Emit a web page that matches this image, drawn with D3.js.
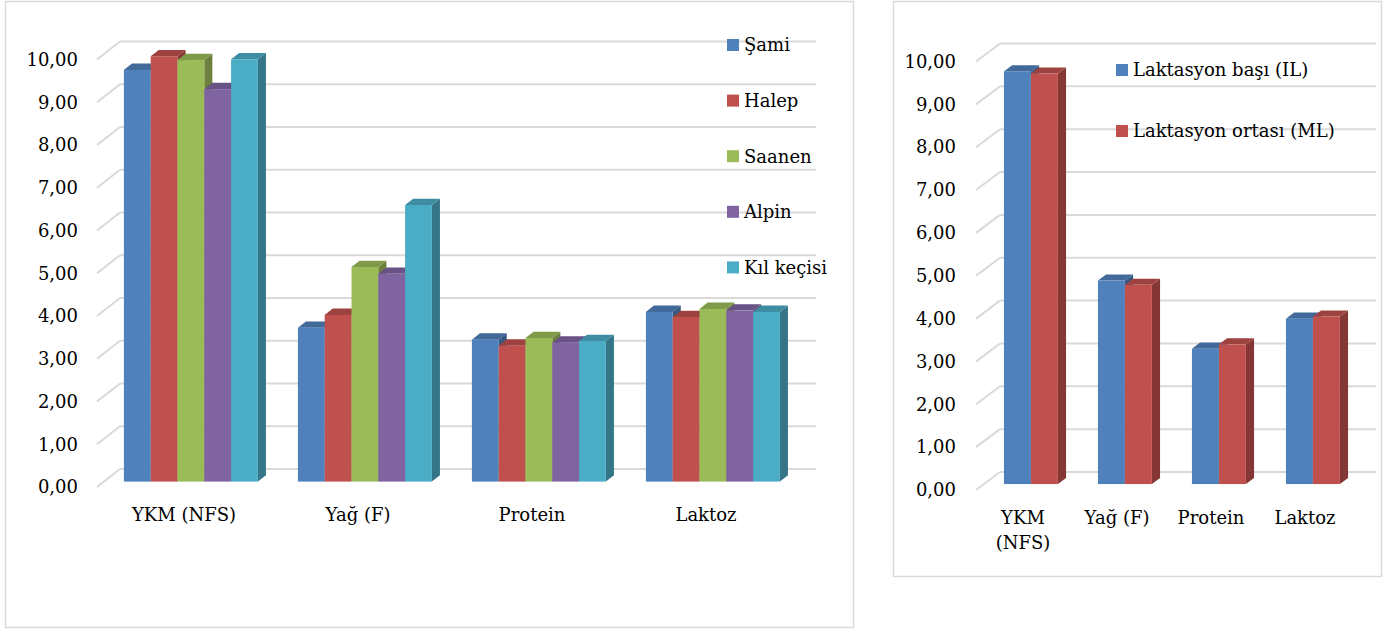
<!DOCTYPE html>
<html>
<head>
<meta charset="utf-8">
<script src="https://cdn.jsdelivr.net/npm/d3@7"></script>
<style>
  body { margin: 0; background: #fff; }
  svg { display: block; }
</style>
</head>
<body>
<svg id="chart" width="1384" height="629"></svg>
<script>
// left chart: breeds
const leftCategories = ["YKM (NFS)", "Yağ (F)", "Protein", "Laktoz"];
const breedNames = ["Şami", "Halep", "Saanen", "Alpin", "Kıl keçisi"];
const samiValues = [9.63, 3.60, 3.32, 3.97];
const halepValues = [9.95, 3.90, 3.18, 3.85];
const saanenValues = [9.86, 5.02, 3.36, 4.04];
const alpinValues = [9.18, 4.86, 3.25, 4.00];
const kilValues = [9.88, 6.47, 3.29, 3.97];

// right chart: lactation stage
const rightCategories = ["YKM (NFS)", "Yağ (F)", "Protein", "Laktoz"];
const stageNames = ["Laktasyon başı (IL)", "Laktasyon ortası (ML)"];
const ilValues = [9.63, 4.75, 3.16, 3.86];
const mlValues = [9.58, 4.65, 3.26, 3.91];

const yTicks = [0, 1, 2, 3, 4, 5, 6, 7, 8, 9, 10];

const palette = ["#4F81BD", "#C0504D", "#9BBB59", "#8064A2", "#4BACC6"];
const FONT = "'DejaVu Serif', 'Liberation Serif', serif";

const fmt = d3.formatLocale({ decimal: ",", thousands: ".", grouping: [3], currency: ["", ""] }).format(".2f");

const svg = d3.select("#chart");

// panel frames
svg.append("rect").attr("x", 5.5).attr("y", 1.5).attr("width", 848).attr("height", 626)
  .attr("fill", "#fff").attr("stroke", "#d9d9d9").attr("stroke-width", 1.5);
svg.append("rect").attr("x", 893.5).attr("y", 1.5).attr("width", 488).attr("height", 575)
  .attr("fill", "#fff").attr("stroke", "#d9d9d9").attr("stroke-width", 1.5);

const draw3D = (cfg) => {
  const { x0, x1, yZero, yTop, depthX, depthY, zFront, zBack } = cfg;

  const yScale = d3.scaleLinear().domain([0, 10]).range([yZero, yTop]);

  const xScale = d3.scaleBand()
    .domain(cfg.categories)
    .range([x0, x1])
    .paddingInner(cfg.padInner)
    .paddingOuter(cfg.padInner / 2);

  const xSeries = d3.scaleBand()
    .domain(cfg.series.map((s) => s.name))
    .range([0, xScale.bandwidth()]);

  const proj = (x, v, z) => [x + depthX * z, yScale(v) + depthY * z];

  const g = svg.append("g");

  // side wall diagonals + back wall gridlines
  g.selectAll(".diag").data(yTicks).enter().append("line")
    .attr("x1", x0).attr("y1", (d) => yScale(d))
    .attr("x2", x0 + depthX).attr("y2", (d) => yScale(d) + depthY)
    .attr("stroke", "#d9d9d9").attr("stroke-width", 2);
  g.selectAll(".grid").data(yTicks).enter().append("line")
    .attr("x1", x0 + depthX).attr("y1", (d) => yScale(d) + depthY)
    .attr("x2", x1 + depthX).attr("y2", (d) => yScale(d) + depthY)
    .attr("stroke", "#d9d9d9").attr("stroke-width", 2);

  // y axis labels
  const yAxis = d3.axisLeft(yScale).tickValues(yTicks).tickFormat(fmt).tickSize(0).tickPadding(cfg.tickPad);
  const ax = g.append("g").attr("transform", `translate(${x0},0)`).call(yAxis);
  ax.select(".domain").remove();
  ax.attr("font-family", FONT).attr("font-size", 18).attr("color", "#000");

  // bars, painted left to right
  const pts = (arr) => arr.map((p) => p.join(",")).join(" ");
  cfg.categories.forEach((cat, ci) => {
    cfg.series.forEach((s) => {
      const v = s.values[ci];
      const xl = xScale(cat) + xSeries(s.name);
      const xr = xl + xSeries.bandwidth();
      const c = d3.color(s.color);
      // side face
      g.append("polygon")
        .attr("points", pts([proj(xr, 0, zFront), proj(xr, 0, zBack), proj(xr, v, zBack), proj(xr, v, zFront)]))
        .attr("fill", c.darker(1.05));
      // top face
      g.append("polygon")
        .attr("points", pts([proj(xl, v, zFront), proj(xr, v, zFront), proj(xr, v, zBack), proj(xl, v, zBack)]))
        .attr("fill", c.darker(0.55));
      // front face
      const [fx, fy] = proj(xl, v, zFront);
      const [, fy0] = proj(xl, 0, zFront);
      g.append("rect")
        .attr("x", fx).attr("y", fy)
        .attr("width", xr - xl).attr("height", fy0 - fy)
        .attr("fill", s.color);
    });
  });

  // category labels
  const lab = g.selectAll(".xlab").data(cfg.categories).enter().append("text")
    .attr("x", (d) => xScale(d) + xScale.bandwidth() / 2)
    .attr("y", cfg.labelY)
    .attr("text-anchor", "middle")
    .attr("font-family", FONT).attr("font-size", 18).attr("fill", "#000");
  lab.each(function (d) {
    const t = d3.select(this);
    const cx = +t.attr("x");
    const words = d.split(" ");
    let line = [];
    let tspan = t.append("tspan").attr("x", cx).attr("dy", 0);
    words.forEach((w) => {
      line.push(w);
      tspan.text(line.join(" "));
      if (tspan.node().getComputedTextLength() > xScale.step() - 4 && line.length > 1) {
        line.pop();
        tspan.text(line.join(" "));
        line = [w];
        tspan = t.append("tspan").attr("x", cx).attr("dy", 25).text(w);
      }
    });
  });

  // legend
  const leg = g.selectAll(".leg").data(cfg.series).enter().append("g")
    .attr("transform", (d, i) => `translate(${cfg.legend.x},${cfg.legend.y0 + i * cfg.legend.dy})`);
  leg.append("rect").attr("x", 0).attr("y", -6).attr("width", 12).attr("height", 12)
    .attr("fill", (d) => d.color);
  leg.append("text").attr("x", 17).attr("dy", "0.35em")
    .attr("font-family", FONT).attr("font-size", 18).attr("fill", "#000")
    .text((d) => d.name);
};

const leftSeries = [samiValues, halepValues, saanenValues, alpinValues, kilValues]
  .map((values, i) => ({ name: breedNames[i], values, color: palette[i] }));

draw3D({
  x0: 97, x1: 793, yZero: 487, yTop: 59.5,
  depthX: 23, depthY: -18, zFront: 0.3, zBack: 0.65,
  categories: leftCategories, series: leftSeries,
  padInner: 0.23, tickPad: 19, labelY: 521,
  legend: { x: 727, y0: 45, dy: 55.6 },
});

const rightSeries = [ilValues, mlValues]
  .map((values, i) => ({ name: stageNames[i], values, color: palette[i] }));

draw3D({
  x0: 976, x1: 1352, yZero: 490, yTop: 61.5,
  depthX: 24, depthY: -18, zFront: 0.33, zBack: 0.67,
  categories: rightCategories, series: rightSeries,
  padInner: 0.426, tickPad: 20, labelY: 524,
  legend: { x: 1116, y0: 70, dy: 61 },
});
</script>
</body>
</html>
